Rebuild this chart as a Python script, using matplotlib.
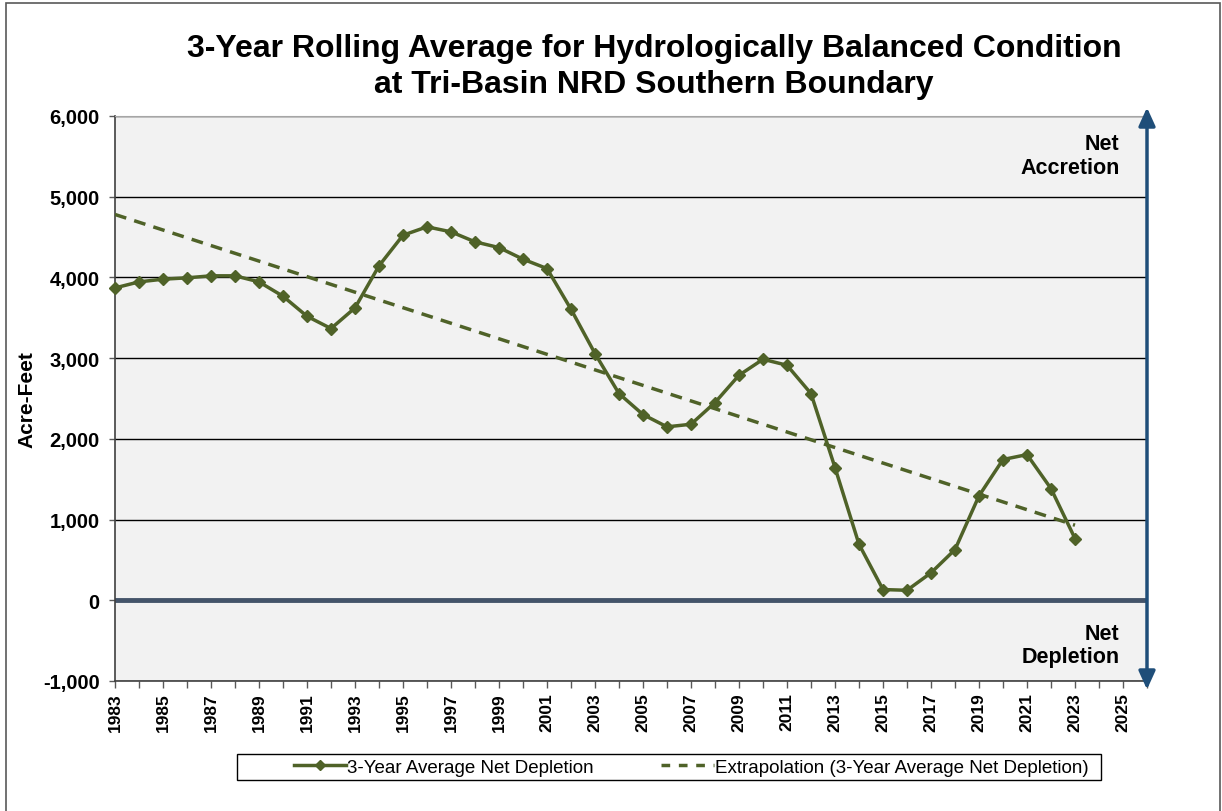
import matplotlib
matplotlib.use("Agg")
import matplotlib.pyplot as plt
from matplotlib.patches import Rectangle
from matplotlib.ticker import FuncFormatter, MultipleLocator
from matplotlib.lines import Line2D

years = list(range(1983, 2024))
avg_net_depletion = [3870, 3945, 3978, 3995, 4020, 4020, 3945, 3767, 3519, 3367,
                     3623, 4144, 4523, 4627, 4565, 4441, 4370, 4226, 4110, 3606,
                     3057, 2561, 2301, 2149, 2181, 2450, 2788, 2986, 2912, 2561,
                     1644, 694, 133, 124, 340, 628, 1294, 1744, 1805, 1384, 765]
trend_years = [1983, 2023]
trend_values = [4780, 930]
xtick_years = list(range(1983, 2026, 2))

green = "#4F6228"
plt.rcParams['font.family'] = ['Liberation Sans', 'DejaVu Sans']

fig = plt.figure(figsize=(12.22, 8.12), dpi=100)
ax = fig.add_axes([115/1222, 1-682/812, (1147-115)/1222, (682-117)/812])
ax.set_facecolor("#F2F2F2")

ax.set_xlim(1983, 2026)
ax.set_ylim(-1000, 6000)
ax.yaxis.set_major_locator(MultipleLocator(1000))
ax.yaxis.set_major_formatter(FuncFormatter(lambda v, p: f"{int(v):,}"))
ax.grid(axis='y', color='black', linewidth=1.0, zorder=1)
ax.set_axisbelow(True)

ax.axhline(0, color="#44546A", linewidth=3.5, zorder=2)

ax.plot(years, avg_net_depletion, color=green, linewidth=2.5, marker='D',
        markersize=6.5, zorder=4, clip_on=False,
        label="3-Year Average Net Depletion")
ax.plot(trend_years, trend_values, color=green, linewidth=2.5,
        linestyle=(0, (3.4, 2.4)), zorder=3,
        label="Extrapolation (3-Year Average Net Depletion)")

ax.set_xticks(range(1983, 2027))
ax.set_xticklabels([str(y) if y in xtick_years else "" for y in range(1983, 2027)],
                   rotation=90, fontweight='bold', fontsize=12.5)
for lab in ax.get_yticklabels():
    lab.set_fontweight('bold')
ax.tick_params(axis='y', labelsize=14.5, length=4, color='#595959', width=1, pad=7)
ax.tick_params(axis='x', length=5, color='#595959', width=1, pad=3)

ax.spines['top'].set_color('#A6A6A6')
ax.spines['right'].set_visible(False)
ax.spines['left'].set_color('#404040')
ax.spines['bottom'].set_color('#404040')
ax.spines['left'].set_linewidth(1.2)
ax.spines['bottom'].set_linewidth(1.2)

ax.set_ylabel("Acre-Feet", fontweight='bold', fontsize=15)
ax.yaxis.set_label_coords(-0.0756, 0.5)

# vertical double arrow on right
ax.annotate("", xy=(1.0, 1.015), xytext=(1.0, -0.015), xycoords='axes fraction',
            arrowprops=dict(arrowstyle='<|-|>,head_length=1.1,head_width=0.5',
                            color='#1F4E79', linewidth=2.5, shrinkA=0, shrinkB=0),
            annotation_clip=False, zorder=6)

ax.text(2024.85, 5510, "Net\nAccretion", ha='right', va='center', fontsize=15.5,
        fontweight='bold', linespacing=1.15)
ax.text(2024.85, -555, "Net\nDepletion", ha='right', va='center', fontsize=15.5,
        fontweight='bold', linespacing=1.15)

fig.text(654/1222, 1-67/812,
         "3-Year Rolling Average for Hydrologically Balanced Condition\nat Tri-Basin NRD Southern Boundary",
         ha='center', va='center', fontsize=23, fontweight='bold', linespacing=1.28)

leg_handles = [
    Line2D([0], [0], color=green, linewidth=2.5, marker='D', markersize=5),
    Line2D([0], [0], color=green, linewidth=2.5, linestyle=(0, (2.5, 2.5))),
]
leg = fig.legend(leg_handles,
                 ["3-Year Average Net Depletion", "Extrapolation (3-Year Average Net Depletion)"],
                 loc='center', bbox_to_anchor=(691/1222, 1-768/812), ncol=2,
                 frameon=False, handlelength=2.8, columnspacing=3.6,
                 borderpad=0.0, handletextpad=0.05, borderaxespad=0,
                 prop={'family': ['Liberation Sans'], 'size': 13.5})

fig.patches.append(Rectangle((237/1222, 1-781/812), (1101-237)/1222, 26/812,
                             transform=fig.transFigure, fill=False,
                             edgecolor='black', linewidth=1.0))

fig.patches.append(Rectangle((6/1222, -0.1), (1220-6)/1222, 1.1 - 4/812,
                             transform=fig.transFigure, fill=False,
                             edgecolor='#595959', linewidth=1.2))

fig.savefig("out.png", dpi=100)
